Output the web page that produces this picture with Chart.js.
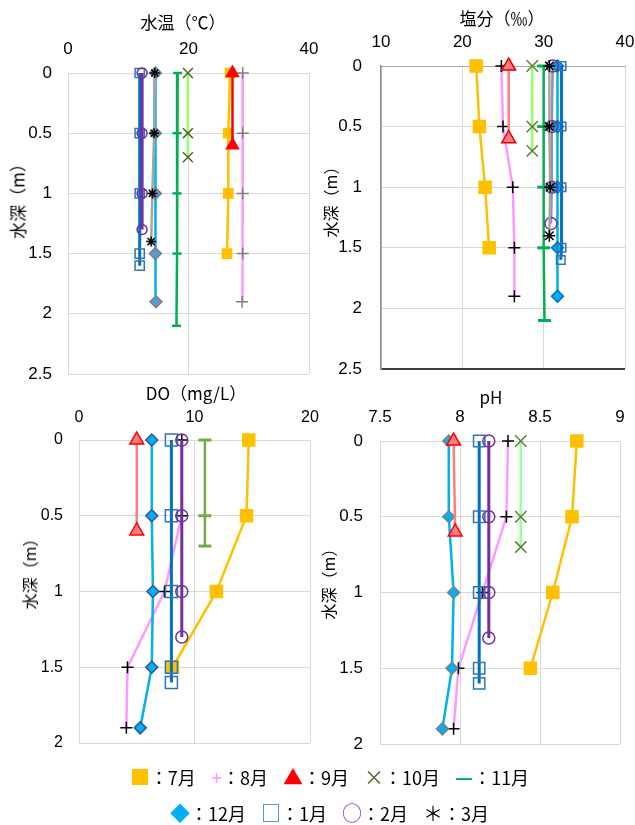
<!DOCTYPE html>
<html>
<head>
<meta charset="utf-8">
<script src="https://cdn.jsdelivr.net/npm/chart.js@4.4.1/dist/chart.umd.min.js"></script>
<style>
  html,body{margin:0;padding:0;background:#fff;}
  #wrap{position:relative;width:635px;height:825px;overflow:hidden;background:#fff;font-family:"Noto Sans CJK JP","Noto Sans",sans-serif;}
  canvas{position:absolute;}
  .t{position:absolute;white-space:nowrap;color:#000;transform:translate(-50%,-50%);line-height:1;}
  .yt{position:absolute;white-space:nowrap;color:#000;transform:translate(-50%,-50%) rotate(-90deg);line-height:1;}
  .lg{position:absolute;left:12px;width:635px;text-align:center;font-size:18px;line-height:1;white-space:nowrap;}
  .gap{display:inline-block;width:15px;}
  .sym{font-size:20px;}
</style>
</head>
<body>
<div id="wrap">
  <canvas id="c1" width="320" height="390" style="left:0;top:0"></canvas>
  <canvas id="c2" width="315" height="390" style="left:320px;top:0"></canvas>
  <canvas id="c3" width="320" height="400" style="left:0;top:380px"></canvas>
  <canvas id="c4" width="315" height="400" style="left:320px;top:380px"></canvas>

  <div class="t" style="left:183px;top:21px;font-size:17px">水温（℃）</div>
  <div class="t" style="left:502px;top:17px;font-size:17px">塩分（‰）</div>
  <div class="t" style="left:196px;top:392px;font-size:17px">DO（mg/L）</div>
  <div class="t" style="left:491px;top:396px;font-size:17px">pH</div>

  <div class="yt" style="left:17px;top:197px;font-size:17px">水深（m）</div>
  <div class="yt" style="left:330px;top:198px;font-size:16px">水深（m）</div>
  <div class="yt" style="left:29px;top:570px;font-size:16px">水深（m）</div>
  <div class="yt" style="left:328px;top:580px;font-size:16px">水深（m）</div>

  <div class="lg" style="top:767px">
    <span class="sym" style="color:#FFC000">■</span>：7月<span class="gap"></span><span class="sym" style="color:#FF99FF">+</span>：8月<span class="gap"></span><span class="sym" style="color:#FF0000">▲</span>：9月<span class="gap"></span><span class="sym" style="color:#4F6228">×</span>：10月<span class="gap"></span><span class="sym" style="color:#00B050;font-weight:bold">—</span>：11月
  </div>
  <div class="lg" style="top:803px">
    <span class="sym" style="color:#00B0F0">◆</span>：12月<span class="gap"></span><span class="sym" style="color:#2E75B6">□</span>：1月<span class="gap"></span><span class="sym" style="color:#9933CC">○</span>：2月<span class="gap"></span><span class="sym" style="color:#000">＊</span>：3月
  </div>
</div>

<script>
// ---- depths (m) per month ----
const depth7  = [0, 0.5, 1, 1.5];
const depth8  = [0, 0.5, 1, 1.5, 1.9];
const depth9  = [0, 0.6];
const depth10 = [0, 0.5, 0.7];
const depth11 = [0, 0.5, 1, 1.5, 2.1];
const depth12 = [0, 0.5, 1, 1.5, 1.9];
const depth1  = [0, 0.5, 1, 1.5, 1.6];
const depth2  = [0, 0.5, 1, 1.3];
const depth3  = [0, 0.5, 1, 1.4];

// ---- water temperature (℃) ----
const temp7  = [26.9, 26.6, 26.6, 26.4];
const temp8  = [29.0, 29.0, 29.0, 29.0, 28.9];
const temp9  = [27.3, 27.3];
const temp10 = [19.9, 19.9, 19.9];
const temp11 = [18.2, 18.1, 18.1, 18.1, 18.0];
const temp12 = [14.5, 14.5, 14.5, 14.5, 14.6];
const temp1  = [11.9, 11.9, 11.9, 11.9, 11.9];
const temp2  = [12.3, 12.3, 12.3, 12.3];
const temp3  = [14.4, 14.3, 14.0, 13.8];

// ---- salinity (‰) ----
const sal7  = [21.7, 22.1, 22.8, 23.3];
const sal8  = [24.8, 25.0, 26.2, 26.4, 26.4];
const sal9  = [25.7, 25.7];
const sal10 = [28.6, 28.6, 28.6];
const sal11 = [30.0, 30.0, 30.0, 30.0, 30.1];
const sal12 = [31.7, 31.7, 31.7, 31.7, 31.7];
const sal1  = [32.2, 32.2, 32.2, 32.2, 32.1];
const sal2  = [31.1, 31.0, 31.0, 30.9];
const sal3  = [30.7, 30.7, 30.8, 30.7];

// ---- DO (mg/L) ----
const do7  = [14.7, 14.5, 11.9, 8.1];
const do8  = [8.9, 8.9, 7.4, 4.2, 4.1];
const do9  = [5.0, 5.0];
const do10 = [10.9, 10.9, 10.9];
const do12 = [6.3, 6.3, 6.4, 6.3, 5.3];
const do1  = [8.0, 8.0, 8.0, 8.0, 8.0];
const do2  = [8.9, 8.9, 8.9, 8.9];

// ---- pH ----
const ph7  = [8.73, 8.70, 8.58, 8.44];
const ph8  = [8.30, 8.29, 8.14, 7.99, 7.96];
const ph9  = [7.96, 7.97];
const ph10 = [8.38, 8.38, 8.38];
const ph12 = [7.93, 7.93, 7.96, 7.95, 7.89];
const ph1  = [8.12, 8.12, 8.12, 8.12, 8.12];
const ph2  = [8.18, 8.18, 8.18, 8.18];

// ---- axis ticks ----
const tempTicks = [0, 20, 40];
const salTicks  = [10, 20, 30, 40];
const doTicks   = [0, 10, 20];
const phTicks   = [7.5, 8, 8.5, 9];
const depthTicksA = [0, 0.5, 1, 1.5, 2, 2.5];
const depthTicksB = [0, 0.5, 1, 1.5, 2];

function pts(depths, vals){ return depths.map((d,i)=>({x: vals[i], y: d})); }

function ds(label, depths, vals, st, order){
  return {
    label, data: pts(depths, vals),
    borderColor: st.line, borderWidth: st.lw || 2.5,
    pointStyle: st.ps, pointRadius: st.r, pointBackgroundColor: st.bg || 'rgba(0,0,0,0)',
    pointBorderColor: st.pb, pointBorderWidth: st.pw || 1.5,
    showLine: true, tension: 0, fill: false, clip: false, order: order
  };
}

function makeChart(id, geo, datasets){
  const ticksFont = {family: '"Liberation Sans", Arial, sans-serif', size: geo.fs || 17};
  new Chart(document.getElementById(id), {
    type: 'scatter',
    data: { datasets },
    options: {
      responsive: false, animation: false, devicePixelRatio: 1,
      layout: { padding: { left: 0, top: 0, right: geo.pr, bottom: geo.pb } },
      plugins: { legend: { display: false }, tooltip: { enabled: false } },
      scales: {
        x: {
          type: 'linear', position: 'top', min: geo.xt[0], max: geo.xt[geo.xt.length-1],
          afterBuildTicks: s => { s.ticks = geo.xt.map(v => ({value: v})); },
          afterFit: s => { s.height = geo.xh; s.paddingLeft = 0; s.paddingRight = 0; s.paddingTop = 0; s.paddingBottom = 0; },
          ticks: { font: ticksFont, color: '#000', padding: geo.xpad || 13, maxRotation: 0, callback: v => String(v) },
          grid: { color: '#D9D9D9', lineWidth: 1, drawTicks: false },
          border: { display: true, color: geo.topBorder || '#D9D9D9', width: 1 }
        },
        y: {
          type: 'linear', reverse: true, min: 0, max: geo.yt[geo.yt.length-1],
          afterBuildTicks: s => { s.ticks = geo.yt.map(v => ({value: v})); },
          afterFit: s => { s.width = geo.yw; s.paddingLeft = 0; s.paddingRight = 0; s.paddingTop = 0; s.paddingBottom = 0; },
          ticks: { font: ticksFont, color: '#000', padding: geo.ypad || 16, callback: v => String(v) },
          grid: {
            color: c => (geo.bottomDark && c.tick && c.tick.value === geo.yt[geo.yt.length-1]) ? geo.bottomDark : '#D9D9D9',
            lineWidth: c => (geo.bottomDark && c.tick && c.tick.value === geo.yt[geo.yt.length-1]) ? 2 : 1,
            drawTicks: false
          },
          border: { display: true, color: geo.leftBorder || '#D9D9D9', width: geo.leftBorderW || 1 }
        }
      }
    }
  });
}

// ---- Panel 1: 水温 ----
makeChart('c1', {xt: tempTicks, yt: depthTicksA, xh: 73, yw: 68, pr: 11, pb: 16}, [
  ds('7月', depth7, temp7, {line:'#FFC000', ps:'rect', r:6.5, bg:'#FFC000', pb:'#FFC000'}, 9),
  ds('8月', depth8, temp8, {line:'#FF99FF', ps:'cross', r:6, pb:'#808080'}, 8),
  ds('9月', depth9, temp9, {line:'#FF0000', ps:'triangle', r:7, bg:'#FF0000', pb:'#FF0000'}, 7),
  ds('10月', depth10, temp10, {line:'#99FF66', ps:'crossRot', r:7, pb:'#4F6228'}, 6),
  ds('11月', depth11, temp11, {line:'#00B050', ps:'line', r:4.5, pb:'#00B050', pw:2.5}, 5),
  ds('12月', depth12, temp12, {line:'#00B0F0', ps:'rectRot', r:6, bg:'#5B9BD5', pb:'#7F7F7F'}, 4),
  ds('1月', depth1, temp1, {line:'#0070C0', ps:'rect', r:6.5, pb:'#2E75B6', lw:3}, 3),
  ds('2月', depth2, temp2, {line:'#7030A0', ps:'circle', r:5, pb:'#7030A0', lw:3}, 2),
  ds('3月', depth3, temp3, {line:'#A6A6A6', ps:'star', r:5, pb:'#000000'}, 1)
]);

// ---- Panel 2: 塩分 ----
makeChart('c2', {xt: salTicks, yt: depthTicksA, xh: 66, yw: 61, pr: 10, pb: 21, ypad: 19,
  bottomDark: '#404040', leftBorder: '#8C8C8C', leftBorderW: 1.5, topBorder: '#A6A6A6'}, [
  ds('7月', depth7, sal7, {line:'#FFC000', ps:'rect', r:8.5, bg:'#FFC000', pb:'#FFC000'}, 9),
  ds('8月', depth8, sal8, {line:'#FF99FF', ps:'cross', r:6, pb:'#000000'}, 8),
  ds('9月', depth9, sal9, {line:'#FF7C80', ps:'triangle', r:8, bg:'#FF7C80', pb:'#E00000'}, 7),
  ds('10月', depth10, sal10, {line:'#99FF66', ps:'crossRot', r:8, pb:'#548235'}, 6),
  ds('11月', depth11, sal11, {line:'#00B050', ps:'line', r:6.5, pb:'#00B050', pw:3}, 5),
  ds('12月', depth12, sal12, {line:'#00B0F0', ps:'rectRot', r:6, bg:'#00B0F0', pb:'#0070C0'}, 4),
  ds('1月', depth1, sal1, {line:'#0070C0', ps:'rect', r:6, pb:'#2E75B6', lw:3}, 3),
  ds('2月', depth2, sal2, {line:'#9A8AAE', ps:'circle', r:6, pb:'#7030A0'}, 2),
  ds('3月', depth3, sal3, {line:'#A6A6A6', ps:'star', r:6, pb:'#000000'}, 1)
]);

// ---- Panel 3: DO ----
makeChart('c3', {xt: doTicks, yt: depthTicksB, xh: 60, yw: 79, pr: 8, pb: 37, fs: 16}, [
  ds('7月', depth7, do7, {line:'#FFC000', ps:'rect', r:8.5, bg:'#FFC000', pb:'#FFC000'}, 9),
  ds('8月', depth8, do8, {line:'#FF99FF', ps:'cross', r:6, pb:'#000000'}, 8),
  ds('9月', depth9, do9, {line:'#FF7C80', ps:'triangle', r:8, bg:'#FF7C80', pb:'#FF0000'}, 7),
  ds('10月', depth10, do10, {line:'#70AD47', ps:'line', r:6.5, pb:'#70AD47', pw:3}, 6),
  ds('12月', depth12, do12, {line:'#00B0F0', ps:'rectRot', r:6, bg:'#00B0F0', pb:'#2F5597'}, 4),
  ds('1月', depth1, do1, {line:'#0070C0', ps:'rect', r:8.5, pb:'#2E75B6', lw:3}, 3),
  ds('2月', depth2, do2, {line:'#7030A0', ps:'circle', r:6, pb:'#7030A0', lw:3}, 2)
]);

// ---- Panel 4: pH ----
makeChart('c4', {xt: phTicks, yt: depthTicksB, xh: 61, yw: 60, pr: 15, pb: 36, ypad: 17}, [
  ds('7月', depth7, ph7, {line:'#FFC000', ps:'rect', r:8.5, bg:'#FFC000', pb:'#FFC000'}, 9),
  ds('8月', depth8, ph8, {line:'#FF99FF', ps:'cross', r:6, pb:'#000000'}, 8),
  ds('9月', depth9, ph9, {line:'#FF7C80', ps:'triangle', r:8, bg:'#FF7C80', pb:'#FF0000'}, 1),
  ds('10月', depth10, ph10, {line:'#99FF99', ps:'crossRot', r:8, pb:'#548235'}, 6),
  ds('12月', depth12, ph12, {line:'#00B0F0', ps:'rectRot', r:6, bg:'#00B0F0', pb:'#808080'}, 4),
  ds('1月', depth1, ph1, {line:'#0070C0', ps:'rect', r:8, pb:'#2E75B6', lw:3}, 3),
  ds('2月', depth2, ph2, {line:'#7030A0', ps:'circle', r:6, pb:'#7030A0', lw:3}, 2)
]);
</script>
</body>
</html>
